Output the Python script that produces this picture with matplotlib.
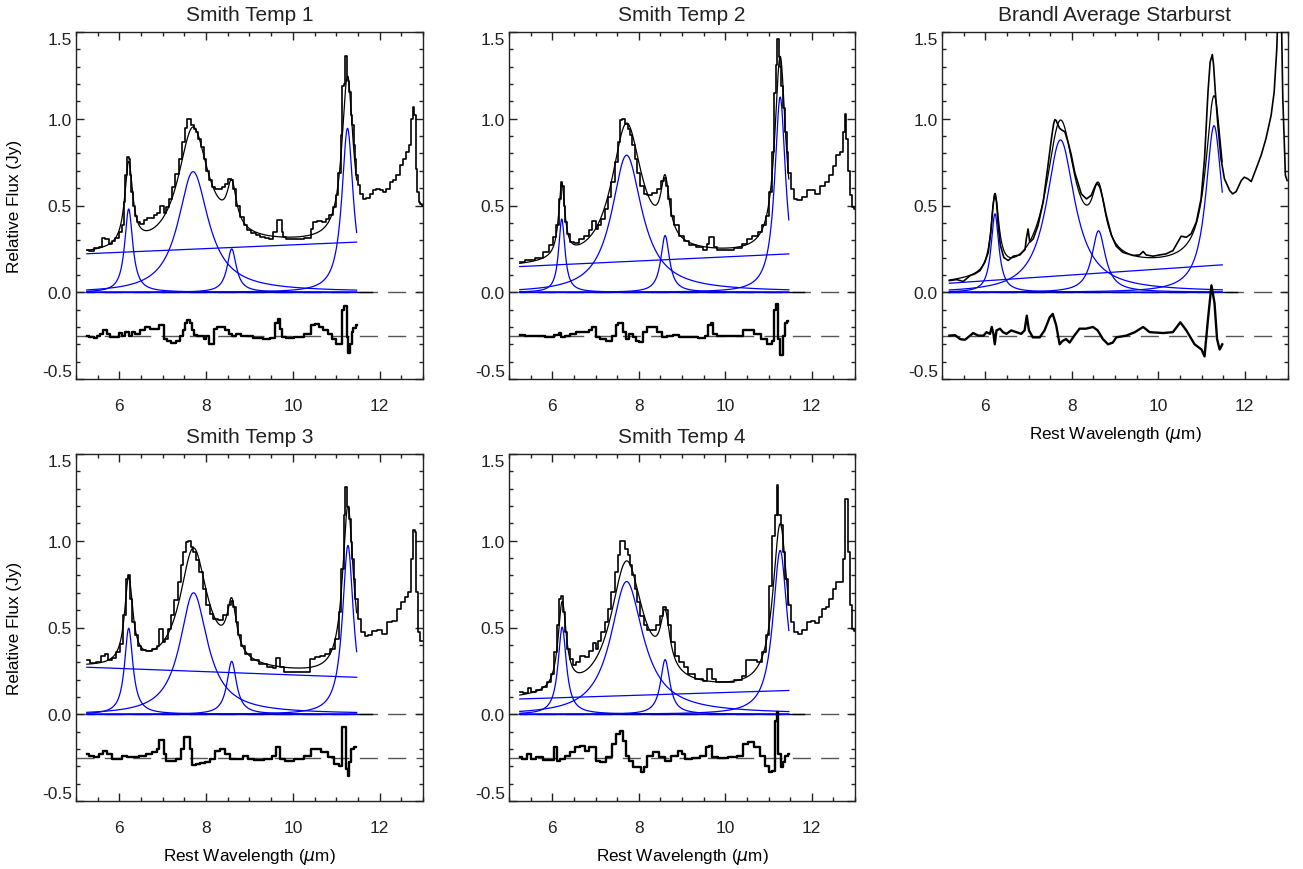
import numpy as np
import matplotlib.pyplot as plt
from matplotlib.ticker import MultipleLocator, FormatStrFormatter

plt.rcParams['font.family'] = ['Liberation Sans', 'DejaVu Sans']
plt.rcParams['axes.unicode_minus'] = False
plt.rcParams['text.color'] = '#222222'
plt.rcParams['xtick.color'] = '#222222'
plt.rcParams['ytick.color'] = '#222222'


titles = ['Smith Temp 1', 'Smith Temp 2', 'Brandl Average Starburst',
          'Smith Temp 3', 'Smith Temp 4']

t1_wave = [5.25, 5.36, 5.47, 5.58, 5.64, 5.72, 5.79, 5.87, 5.95, 6.02, 6.08, 6.12, 6.15, 6.20,
           6.23, 6.26, 6.29, 6.33, 6.38, 6.45, 6.52, 6.60, 6.68, 6.75, 6.83, 6.91, 6.97,
           7.02, 7.05, 7.10, 7.18, 7.25, 7.33, 7.41, 7.48, 7.54, 7.58, 7.64, 7.68, 7.74,
           7.79, 7.85, 7.91, 7.97, 8.03, 8.10, 8.18, 8.25, 8.33, 8.41, 8.48, 8.55, 8.60,
           8.66, 8.74, 8.82, 8.91, 8.98, 9.10, 9.20, 9.30, 9.40, 9.50, 9.60, 9.65, 9.72,
           9.76, 9.80, 9.90, 10.00, 10.10, 10.20, 10.30, 10.38, 10.45, 10.50, 10.60, 10.73,
           10.80, 10.88, 10.96, 11.02, 11.08, 11.12, 11.15, 11.19, 11.22, 11.25, 11.26,
           11.28, 11.31, 11.35, 11.38, 11.42, 11.45, 11.48, 11.52, 11.58, 11.65, 11.73,
           11.81, 11.88, 11.96, 12.04, 12.12, 12.19, 12.27, 12.35, 12.42, 12.50, 12.58,
           12.65, 12.71, 12.75, 12.77, 12.81, 12.85, 12.88, 12.92, 12.96, 13.00]
t1_flux = [0.246, 0.240, 0.254, 0.262, 0.310, 0.305, 0.280, 0.293, 0.310, 0.350, 0.385,
           0.520, 0.675, 0.780, 0.770, 0.674, 0.580, 0.500, 0.440, 0.405, 0.395, 0.414,
           0.428, 0.428, 0.443, 0.459, 0.500, 0.500, 0.459, 0.490, 0.540, 0.607, 0.684,
           0.770, 0.867, 0.944, 0.996, 0.996, 0.963, 0.940, 0.925, 0.886, 0.838, 0.770,
           0.700, 0.645, 0.607, 0.597, 0.597, 0.607, 0.626, 0.655, 0.645, 0.597, 0.500,
           0.434, 0.385, 0.356, 0.340, 0.330, 0.320, 0.312, 0.308, 0.347, 0.414, 0.414,
           0.347, 0.318, 0.308, 0.308, 0.308, 0.308, 0.310, 0.310, 0.366, 0.405, 0.410,
           0.405, 0.424, 0.443, 0.490, 0.559, 0.690, 0.906, 1.190, 1.200, 1.360, 1.360,
           1.240, 1.220, 1.156, 1.020, 0.963, 0.848, 0.770, 0.674, 0.617, 0.568, 0.540,
           0.543, 0.568, 0.588, 0.597, 0.590, 0.580, 0.597, 0.636, 0.645, 0.674, 0.732,
           0.770, 0.810, 0.848, 1.000, 1.070, 1.020, 0.713, 0.578, 0.520, 0.510, 0.500]

t2_wave = [5.25, 5.48, 5.71, 5.86, 5.98, 6.05, 6.12, 6.17, 6.22, 6.25, 6.28, 6.32, 6.38,
           6.46, 6.55, 6.67, 6.78, 6.90, 6.94, 6.99, 7.02, 7.09, 7.17, 7.25, 7.32, 7.40,
           7.48, 7.54, 7.59, 7.65, 7.71, 7.77, 7.82, 7.88, 7.94, 8.00, 8.08, 8.15, 8.25,
           8.36, 8.48, 8.55, 8.61, 8.65, 8.71, 8.78, 8.86, 8.98, 9.09, 9.25, 9.40, 9.55,
           9.62, 9.65, 9.71, 9.75, 9.86, 10.09, 10.32, 10.44, 10.55, 10.71, 10.82, 10.90,
           10.98, 11.05, 11.11, 11.15, 11.19, 11.22, 11.25, 11.28, 11.32, 11.36, 11.40,
           11.44, 11.48, 11.55, 11.63, 11.71, 11.82, 11.94, 12.02, 12.13, 12.25, 12.37,
           12.44, 12.52, 12.60, 12.70, 12.75, 12.78, 12.82, 12.86, 12.91, 12.95, 13.00]
t2_flux = [0.173, 0.183, 0.200, 0.230, 0.270, 0.317, 0.385, 0.540, 0.635, 0.615, 0.500,
           0.404, 0.337, 0.288, 0.285, 0.308, 0.323, 0.356, 0.413, 0.413, 0.365, 0.385,
           0.423, 0.480, 0.548, 0.635, 0.750, 0.865, 0.990, 0.996, 0.970, 0.940, 0.904,
           0.846, 0.770, 0.690, 0.615, 0.567, 0.558, 0.570, 0.596, 0.644, 0.658, 0.615,
           0.538, 0.442, 0.385, 0.327, 0.298, 0.273, 0.260, 0.246, 0.279, 0.317, 0.317,
           0.260, 0.246, 0.246, 0.254, 0.279, 0.308, 0.323, 0.346, 0.385, 0.442, 0.577,
           0.810, 1.150, 1.310, 1.460, 1.356, 1.300, 1.190, 1.060, 0.923, 0.810, 0.690,
           0.596, 0.538, 0.529, 0.548, 0.587, 0.592, 0.567, 0.615, 0.638, 0.673, 0.730,
           0.790, 0.810, 0.923, 1.030, 0.885, 0.700, 0.558, 0.490, 0.480]

t3_wave = [5.17, 5.34, 5.49, 5.65, 5.76, 5.88, 5.99, 6.07, 6.13, 6.18, 6.22, 6.26, 6.30,
           6.35, 6.43, 6.53, 6.65, 6.80, 6.92, 6.95, 6.99, 7.03, 7.11, 7.22, 7.34, 7.45,
           7.53, 7.58, 7.61, 7.64, 7.68, 7.72, 7.77, 7.84, 7.92, 7.99, 8.07, 8.15, 8.22,
           8.34, 8.45, 8.53, 8.58, 8.65, 8.72, 8.80, 8.92, 9.03, 9.18, 9.42, 9.57, 9.65,
           9.72, 9.88, 10.03, 10.18, 10.34, 10.45, 10.53, 10.65, 10.76, 10.88, 10.99, 11.07,
           11.15, 11.20, 11.25, 11.28, 11.32, 11.38, 11.45, 11.53, 11.65, 11.72, 11.80,
           11.92, 11.99, 12.07, 12.15, 12.26, 12.38, 12.49, 12.61, 12.68, 12.74, 12.78,
           12.84, 12.88, 12.94, 12.98]
t3_flux = [0.067, 0.073, 0.062, 0.096, 0.106, 0.125, 0.173, 0.230, 0.346, 0.500, 0.567,
           0.520, 0.385, 0.270, 0.200, 0.183, 0.208, 0.215, 0.246, 0.308, 0.365, 0.288,
           0.308, 0.385, 0.520, 0.730, 0.885, 0.970, 0.995, 0.990, 0.965, 0.945, 0.935,
           0.925, 0.860, 0.790, 0.690, 0.625, 0.567, 0.538, 0.558, 0.606, 0.630, 0.606,
           0.538, 0.442, 0.327, 0.265, 0.230, 0.212, 0.215, 0.235, 0.215, 0.208, 0.215,
           0.221, 0.240, 0.288, 0.323, 0.317, 0.337, 0.404, 0.538, 0.770, 1.154, 1.327,
           1.370, 1.308, 1.154, 0.960, 0.770, 0.654, 0.587, 0.567, 0.580, 0.644, 0.663,
           0.654, 0.638, 0.710, 0.790, 0.885, 1.020, 1.154, 1.400, 1.700, 1.700, 1.115,
           0.673, 0.644]

t4_wave = [5.25, 5.38, 5.54, 5.63, 5.71, 5.77, 5.88, 5.98, 6.06, 6.12, 6.18, 6.23, 6.28,
           6.32, 6.38, 6.46, 6.55, 6.69, 6.83, 6.91, 6.94, 7.00, 7.02, 7.08, 7.15, 7.23,
           7.31, 7.38, 7.45, 7.50, 7.55, 7.62, 7.67, 7.73, 7.81, 7.88, 7.96, 8.04, 8.12,
           8.22, 8.35, 8.45, 8.54, 8.60, 8.65, 8.71, 8.77, 8.85, 8.96, 9.12, 9.31, 9.50,
           9.58, 9.62, 9.68, 9.72, 9.85, 10.08, 10.31, 10.46, 10.58, 10.69, 10.81, 10.92,
           11.02, 11.09, 11.15, 11.19, 11.23, 11.26, 11.31, 11.35, 11.38, 11.42, 11.46,
           11.54, 11.62, 11.69, 11.77, 11.88, 12.00, 12.12, 12.23, 12.35, 12.46, 12.54,
           12.62, 12.69, 12.75, 12.78, 12.83, 12.86, 12.91, 12.97]
t4_flux = [0.310, 0.294, 0.300, 0.335, 0.348, 0.315, 0.323, 0.358, 0.406, 0.570, 0.780,
           0.800, 0.665, 0.530, 0.454, 0.396, 0.373, 0.367, 0.377, 0.396, 0.492, 0.492,
           0.415, 0.435, 0.492, 0.570, 0.656, 0.760, 0.858, 0.935, 0.990, 0.996, 0.963,
           0.935, 0.887, 0.820, 0.723, 0.627, 0.579, 0.550, 0.544, 0.570, 0.627, 0.650,
           0.617, 0.530, 0.454, 0.396, 0.348, 0.315, 0.290, 0.271, 0.265, 0.323, 0.323,
           0.271, 0.242, 0.242, 0.246, 0.319, 0.329, 0.338, 0.348, 0.377, 0.435, 0.588,
           0.838, 1.146, 1.310, 1.196, 1.127, 0.992, 0.896, 0.780, 0.665, 0.550, 0.473,
           0.450, 0.458, 0.477, 0.483, 0.463, 0.530, 0.540, 0.608, 0.646, 0.675, 0.704,
           0.896, 1.060, 1.050, 0.704, 0.473, 0.425]

t5_wave = [5.25, 5.40, 5.48, 5.55, 5.71, 5.82, 5.92, 6.00, 6.08, 6.13, 6.19, 6.23, 6.27,
           6.32, 6.38, 6.44, 6.52, 6.59, 6.71, 6.82, 6.90, 6.98, 7.02, 7.09, 7.17, 7.25,
           7.32, 7.40, 7.48, 7.54, 7.59, 7.65, 7.71, 7.77, 7.82, 7.88, 7.94, 8.00, 8.08,
           8.15, 8.25, 8.34, 8.44, 8.52, 8.59, 8.65, 8.71, 8.78, 8.90, 8.98, 9.03, 9.08,
           9.21, 9.40, 9.55, 9.59, 9.67, 9.71, 9.86, 10.09, 10.32, 10.44, 10.52, 10.67,
           10.78, 10.90, 10.98, 11.05, 11.11, 11.17, 11.21, 11.25, 11.31, 11.36, 11.42,
           11.48, 11.55, 11.63, 11.72, 11.82, 11.94, 12.02, 12.11, 12.21, 12.28, 12.36,
           12.44, 12.52, 12.59, 12.69, 12.75, 12.78, 12.82, 12.85, 12.90, 12.95, 13.00]
t5_flux = [0.127, 0.121, 0.150, 0.131, 0.142, 0.156, 0.185, 0.233, 0.358, 0.512, 0.665,
           0.680, 0.588, 0.473, 0.377, 0.319, 0.281, 0.304, 0.335, 0.329, 0.367, 0.412,
           0.377, 0.425, 0.473, 0.531, 0.608, 0.704, 0.820, 0.915, 0.996, 0.996, 0.954,
           0.915, 0.858, 0.800, 0.723, 0.646, 0.569, 0.512, 0.483, 0.483, 0.515, 0.569,
           0.617, 0.598, 0.512, 0.415, 0.338, 0.304, 0.300, 0.271, 0.233, 0.204, 0.194,
           0.262, 0.262, 0.204, 0.185, 0.185, 0.198, 0.223, 0.315, 0.315, 0.304, 0.358,
           0.454, 0.742, 1.030, 1.146, 1.320, 1.146, 1.088, 0.935, 0.780, 0.627, 0.531,
           0.473, 0.463, 0.488, 0.531, 0.537, 0.527, 0.560, 0.608, 0.617, 0.665, 0.723,
           0.762, 0.762, 0.896, 1.240, 1.240, 0.935, 0.627, 0.492, 0.480]

# residuals (data - fit), drawn shifted down to -0.25
t1_rwave = [5.25, 5.37, 5.44, 5.52, 5.59, 5.67, 5.75, 5.83, 5.94, 6.04, 6.10, 6.18, 6.26,
            6.33, 6.41, 6.52, 6.64, 6.75, 6.87, 6.95, 7.00, 7.05, 7.14, 7.26, 7.37, 7.44,
            7.49, 7.53, 7.59, 7.65, 7.69, 7.75, 7.84, 7.91, 7.98, 8.03, 8.08, 8.14, 8.22,
            8.29, 8.37, 8.48, 8.56, 8.64, 8.75, 8.87, 8.98, 9.20, 9.40, 9.54, 9.62, 9.68,
            9.73, 9.77, 9.90, 10.15, 10.38, 10.46, 10.55, 10.65, 10.75, 10.85, 10.95, 11.05,
            11.12, 11.15, 11.20, 11.23, 11.25, 11.28, 11.31, 11.34, 11.37, 11.42, 11.47]
t1_resid = [-0.250, -0.260, -0.265, -0.250, -0.240, -0.220, -0.240, -0.260, -0.260,
            -0.236, -0.250, -0.230, -0.250, -0.230, -0.240, -0.220, -0.200, -0.210,
            -0.210, -0.190, -0.190, -0.270, -0.280, -0.290, -0.280, -0.250, -0.220,
            -0.180, -0.160, -0.180, -0.220, -0.246, -0.250, -0.250, -0.270, -0.250,
            -0.300, -0.300, -0.210, -0.200, -0.200, -0.220, -0.240, -0.250, -0.240,
            -0.250, -0.254, -0.265, -0.270, -0.265, -0.180, -0.155, -0.210, -0.260,
            -0.265, -0.260, -0.240, -0.190, -0.185, -0.200, -0.215, -0.240, -0.270,
            -0.300, -0.300, -0.100, -0.080, -0.080, -0.260, -0.350, -0.350, -0.300,
            -0.230, -0.205, -0.190]

t2_rwave = [5.25, 5.48, 5.71, 5.94, 6.13, 6.17, 6.23, 6.35, 6.48, 6.63, 6.78, 6.90, 6.95,
            7.00, 7.03, 7.17, 7.32, 7.44, 7.49, 7.55, 7.62, 7.67, 7.75, 7.82, 7.90, 7.98,
            8.05, 8.15, 8.25, 8.36, 8.48, 8.59, 8.71, 8.86, 9.02, 9.25, 9.48, 9.59, 9.63,
            9.69, 9.75, 9.86, 10.09, 10.32, 10.48, 10.59, 10.75, 10.90, 11.05, 11.11, 11.15,
            11.21, 11.25, 11.28, 11.32, 11.36, 11.40, 11.46]
t2_resid = [-0.246, -0.254, -0.254, -0.260, -0.246, -0.237, -0.260, -0.252, -0.240,
            -0.230, -0.230, -0.220, -0.200, -0.200, -0.260, -0.270, -0.280, -0.250,
            -0.190, -0.177, -0.177, -0.230, -0.270, -0.240, -0.260, -0.280, -0.285,
            -0.230, -0.200, -0.200, -0.230, -0.260, -0.250, -0.246, -0.260, -0.260,
            -0.265, -0.250, -0.190, -0.177, -0.240, -0.254, -0.254, -0.250, -0.220,
            -0.220, -0.240, -0.270, -0.300, -0.280, -0.100, -0.067, -0.270, -0.360,
            -0.360, -0.250, -0.180, -0.163]

t3_rwave = [5.17, 5.30, 5.42, 5.53, 5.65, 5.72, 5.84, 5.96, 6.03, 6.11, 6.15, 6.19, 6.22,
            6.26, 6.34, 6.41, 6.49, 6.60, 6.72, 6.83, 6.91, 6.96, 7.01, 7.10, 7.26, 7.37,
            7.49, 7.56, 7.64, 7.72, 7.79, 7.87, 7.95, 8.06, 8.18, 8.33, 8.49, 8.60, 8.72,
            8.84, 8.95, 9.03, 9.26, 9.46, 9.65, 9.80, 10.11, 10.34, 10.51, 10.65, 10.84,
            11.00, 11.07, 11.15, 11.23, 11.30, 11.36, 11.42, 11.48]
t3_resid = [-0.250, -0.247, -0.270, -0.274, -0.250, -0.235, -0.250, -0.250, -0.230,
            -0.240, -0.200, -0.240, -0.300, -0.220, -0.210, -0.230, -0.240, -0.220,
            -0.230, -0.240, -0.220, -0.135, -0.220, -0.260, -0.260, -0.220, -0.145,
            -0.125, -0.190, -0.300, -0.280, -0.270, -0.290, -0.250, -0.210, -0.210,
            -0.200, -0.220, -0.270, -0.300, -0.290, -0.260, -0.250, -0.230, -0.200,
            -0.230, -0.235, -0.230, -0.173, -0.220, -0.300, -0.330, -0.370, -0.155,
            0.040, -0.060, -0.270, -0.330, -0.300]

t4_rwave = [5.25, 5.35, 5.46, 5.58, 5.68, 5.77, 5.88, 6.00, 6.12, 6.23, 6.38, 6.54, 6.69,
            6.83, 6.91, 6.94, 7.00, 7.04, 7.12, 7.23, 7.38, 7.46, 7.52, 7.60, 7.65, 7.71,
            7.81, 7.92, 8.04, 8.15, 8.27, 8.38, 8.50, 8.62, 8.77, 8.92, 9.00, 9.23, 9.46,
            9.58, 9.62, 9.68, 9.73, 9.92, 10.15, 10.38, 10.46, 10.58, 10.73, 10.88, 11.00,
            11.12, 11.15, 11.22, 11.25, 11.29, 11.32, 11.37, 11.46]
t4_resid = [-0.229, -0.242, -0.248, -0.229, -0.210, -0.229, -0.258, -0.260, -0.238,
            -0.248, -0.248, -0.242, -0.229, -0.219, -0.200, -0.146, -0.146, -0.229,
            -0.267, -0.267, -0.258, -0.200, -0.133, -0.133, -0.200, -0.292, -0.287,
            -0.280, -0.277, -0.258, -0.210, -0.200, -0.229, -0.258, -0.258, -0.238,
            -0.258, -0.262, -0.258, -0.238, -0.190, -0.190, -0.258, -0.267, -0.258,
            -0.238, -0.200, -0.200, -0.215, -0.248, -0.287, -0.296, -0.075, -0.075,
            -0.315, -0.354, -0.277, -0.200, -0.190]

t5_rwave = [5.25, 5.36, 5.48, 5.54, 5.71, 5.86, 6.02, 6.08, 6.13, 6.25, 6.36, 6.48, 6.59,
            6.71, 6.82, 6.90, 6.98, 7.02, 7.17, 7.32, 7.44, 7.52, 7.59, 7.67, 7.75, 7.82,
            7.90, 8.02, 8.09, 8.15, 8.25, 8.40, 8.55, 8.67, 8.82, 8.98, 9.03, 9.13, 9.32,
            9.52, 9.59, 9.67, 9.71, 9.94, 10.17, 10.36, 10.48, 10.59, 10.75, 10.86, 10.98,
            11.05, 11.11, 11.17, 11.21, 11.25, 11.31, 11.36, 11.42, 11.48]
t5_resid = [-0.248, -0.258, -0.229, -0.258, -0.248, -0.262, -0.262, -0.190, -0.267,
            -0.258, -0.238, -0.219, -0.190, -0.185, -0.210, -0.190, -0.190, -0.267,
            -0.277, -0.248, -0.171, -0.113, -0.094, -0.152, -0.238, -0.267, -0.306,
            -0.306, -0.335, -0.306, -0.238, -0.219, -0.248, -0.267, -0.238, -0.210,
            -0.229, -0.258, -0.254, -0.238, -0.190, -0.181, -0.248, -0.254, -0.248,
            -0.238, -0.171, -0.162, -0.190, -0.238, -0.296, -0.335, -0.325, -0.037,
            0.012, -0.229, -0.306, -0.277, -0.238, -0.229]

# fitted model: linear continuum (start, end) and four PAH features
# (centre micron, peak Jy, fractional width)
fit_range = [[5.25, 11.47], [5.25, 11.47], [5.17, 11.48], [5.25, 11.47], [5.25, 11.47]]
t1_cont = [0.222, 0.289]
t2_cont = [0.148, 0.221]
t3_cont = [0.052, 0.158]
t4_cont = [0.271, 0.213]
t5_cont = [0.088, 0.137]
t1_center = [6.215, 7.70, 8.59, 11.26]
t2_center = [6.220, 7.72, 8.61, 11.27]
t3_center = [6.225, 7.74, 8.62, 11.29]
t4_center = [6.215, 7.71, 8.59, 11.27]
t5_center = [6.230, 7.72, 8.61, 11.27]
t1_peak = [0.480, 0.695, 0.250, 0.945]
t2_peak = [0.423, 0.790, 0.327, 1.125]
t3_peak = [0.452, 0.878, 0.354, 0.960]
t4_peak = [0.496, 0.700, 0.305, 0.973]
t5_peak = [0.502, 0.765, 0.315, 0.944]
t1_width = [0.036, 0.110, 0.030, 0.028]
t2_width = [0.028, 0.110, 0.028, 0.027]
t3_width = [0.035, 0.103, 0.044, 0.041]
t4_width = [0.037, 0.100, 0.031, 0.027]
t5_width = [0.037, 0.117, 0.030, 0.036]

resid_level = -0.25

waves = [t1_wave, t2_wave, t3_wave, t4_wave, t5_wave]
fluxes = [t1_flux, t2_flux, t3_flux, t4_flux, t5_flux]
rwaves = [t1_rwave, t2_rwave, t3_rwave, t4_rwave, t5_rwave]
resids = [t1_resid, t2_resid, t3_resid, t4_resid, t5_resid]
conts = [t1_cont, t2_cont, t3_cont, t4_cont, t5_cont]
centers = [t1_center, t2_center, t3_center, t4_center, t5_center]
peaks = [t1_peak, t2_peak, t3_peak, t4_peak, t5_peak]
widths = [t1_width, t2_width, t3_width, t4_width, t5_width]


def drude(w, c, p, g):
    return p * g**2 / ((w / c - c / w)**2 + g**2)


def model(w, k):
    lo, hi = fit_range[k]
    c0, c1 = conts[k]
    tot = c0 + (c1 - c0) * (w - lo) / (hi - lo)
    for c, p, g in zip(centers[k], peaks[k], widths[k]):
        tot = tot + drude(w, c, p, g)
    return tot


# axes boxes in pixels (left, top, right, bottom) of a 1303x870 canvas
boxes = [(76, 33, 423, 380), (509, 33, 855, 380), (942, 33, 1288, 380),
         (76, 455, 423, 802), (509, 455, 855, 802)]

fig = plt.figure(figsize=(13.03, 8.70), dpi=100)
axes = []

for k in range(5):
    l, t, r, b = boxes[k]
    ax = fig.add_axes([l / 1303, 1 - b / 870, (r - l) / 1303, (b - t) / 870])
    axes.append(ax)
    lo, hi = fit_range[k]
    steps = 'default' if k == 2 else 'steps-mid'

    ax.plot([5.0, 13.0], [0, 0], color='#555555', lw=1.0, dashes=(13, 7.4), zorder=1)
    ax.plot([5.0, 13.0], [resid_level, resid_level], color='#555555', lw=1.0,
            dashes=(13, 7.4), zorder=1)
    ax.plot([lo, 11.82], [0, 0], color='black', lw=1.0, zorder=2)

    w = np.linspace(lo, hi, 800)
    ax.plot([lo, hi], conts[k], color='#0000ff', lw=0.9, zorder=3)
    for c, p, g in zip(centers[k], peaks[k], widths[k]):
        ax.plot(w, drude(w, c, p, g), color='#0000ff', lw=0.9, zorder=3)
    ax.plot(w, model(w, k), color='black', lw=0.9, zorder=4)

    ax.plot(waves[k], fluxes[k], color='black', lw=1.2, drawstyle=steps, zorder=5)
    ax.plot(rwaves[k], resids[k], color='black', lw=1.7, drawstyle=steps, zorder=5)

    ax.set_xlim(5.0, 13.0)
    ax.set_ylim(-0.5, 1.5)
    ax.xaxis.set_major_locator(MultipleLocator(2))
    ax.xaxis.set_minor_locator(MultipleLocator(0.5))
    ax.yaxis.set_major_locator(MultipleLocator(0.5))
    ax.yaxis.set_minor_locator(MultipleLocator(0.1))
    ax.yaxis.set_major_formatter(FormatStrFormatter('%.1f'))
    ax.tick_params(which='both', direction='in', top=True, right=True, width=1.0,
                   color='#222222')
    ax.tick_params(which='major', length=5.8, labelsize=12.5)
    ax.tick_params(which='minor', length=2.9)
    ax.tick_params(axis='x', which='major', pad=14)
    ax.tick_params(axis='y', which='major', pad=3)
    for s in ax.spines.values():
        s.set_linewidth(1.0)
        s.set_color('#222222')

    ax.set_title(titles[k], fontsize=15, pad=8.5)
    if k in (0, 3):
        ax.set_ylabel('Relative Flux (Jy)', fontsize=12.3)
        ax.yaxis.set_label_coords(-0.176, 0.5)
        ax.yaxis.label.set_va('center')
    if k in (2, 3, 4):
        ax.set_xlabel('Rest Wavelength ($\\mu$m)', fontsize=12.3)
        ax.xaxis.set_label_coords(0.5, -0.158)
        ax.xaxis.label.set_va('center')

# end labels of the y axis sit inside the frame, as in the original
fig.canvas.draw()
for ax in axes:
    for tick in ax.yaxis.get_major_ticks():
        if abs(tick.get_loc() - 1.5) < 1e-6:
            tick.label1.set_va('top')
        elif abs(tick.get_loc() + 0.5) < 1e-6:
            tick.label1.set_va('bottom')

fig.savefig('out.png', dpi=100, facecolor='white')
